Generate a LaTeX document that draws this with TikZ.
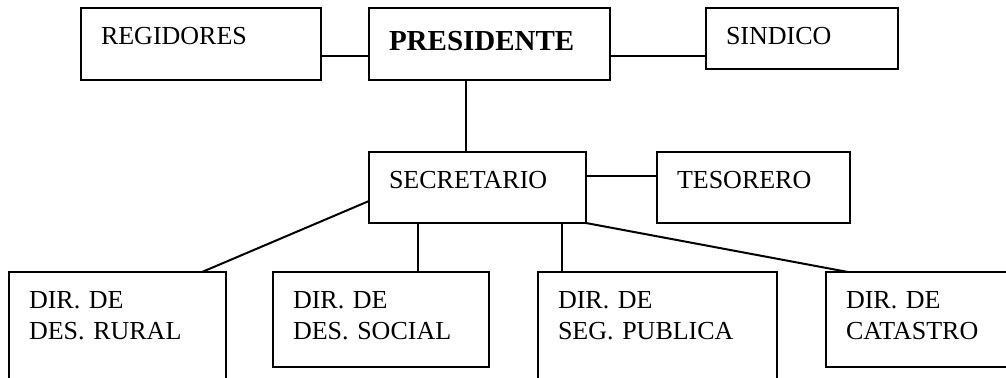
\documentclass[tikz,border=0pt]{standalone}
\usepackage{fontspec}
\setmainfont{Liberation Serif}

\tikzset{
  orgbox/.style={draw, line width=1pt, anchor=north west, align=left,
    inner xsep=10pt, inner ysep=0pt, outer sep=0pt, text height=18pt,
    font=\fontsize{13}{15.5}\selectfont},
  conn/.style={line width=1pt}
}

\begin{document}
\begin{tikzpicture}[x=0.5pt,y=-0.5pt]
  % 枠
  \useasboundingbox (0,0) rectangle (1006,377);
  \clip (0,0) rectangle (1006,377);

  % 上段
  \node[orgbox, text width=100pt, text depth=18pt] (reg) at (81,8) {REGIDORES};
  \node[orgbox, text width=100.5pt, text height=21pt, text depth=15pt,
    font=\fontsize{14.5}{17}\selectfont\bfseries] (pres) at (369,8) {PRESIDENTE};
  \node[orgbox, text width=76pt, text depth=12.5pt] (sind) at (706,8) {SINDICO};

  % 中段
  \node[orgbox, text width=88.5pt, text depth=17.5pt] (secr) at (369,152) {SECRETARIO};
  \node[orgbox, text width=76.5pt, text depth=17.5pt] (tes) at (657,152) {TESORERO};

  % 下段
  \node[orgbox, text width=88.5pt, text depth=50pt] (rural) at (9,272) {DIR. DE\\DES. RURAL};
  \node[orgbox, text width=88pt, text depth=29.5pt] (social) at (273,272) {DIR. DE\\DES. SOCIAL};
  \node[orgbox, text width=99.5pt, text depth=50pt] (seg) at (538,272) {DIR. DE\\SEG. PUBLICA};
  \node[orgbox, text width=130pt, text depth=29.5pt] (cat) at (826,272) {DIR. DE\\CATASTRO};

  % 上段の線
  \coordinate (regout) at ([yshift=-6pt]reg.east);
  \draw[conn] (regout) -- (regout -| pres.west);
  \coordinate (presout) at ([yshift=-6pt]pres.east);
  \draw[conn] (presout) -- (presout -| sind.west);
  \coordinate (presdown) at ([xshift=-11.75pt]pres.south);
  \draw[conn] (presdown) -- (presdown |- secr.north);

  % 中段の線
  \coordinate (secrout) at ([yshift=5.75pt]secr.east);
  \draw[conn] (secrout) -- (secrout -| tes.west);

  % 下段への線
  \draw[conn] ([yshift=-6.75pt]secr.west) -- ([xshift=-12pt]rural.north east);
  \coordinate (secrdownA) at ([xshift=-29.75pt]secr.south);
  \draw[conn] (secrdownA) -- (secrdownA |- social.north);
  \coordinate (secrdownB) at ([xshift=42.25pt]secr.south);
  \draw[conn] (secrdownB) -- (secrdownB |- seg.north);
  \draw[conn] (secr.south east) -- ([xshift=11pt]cat.north west);
\end{tikzpicture}
\end{document}
